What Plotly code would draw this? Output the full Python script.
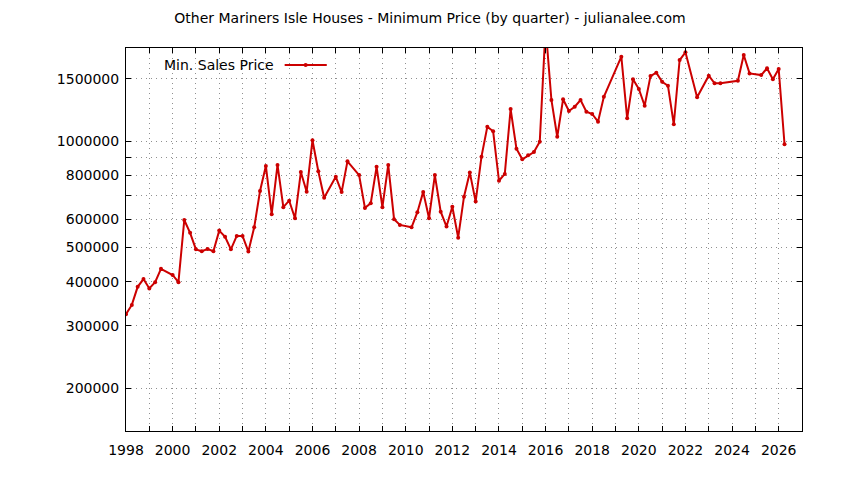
import numpy as np
import plotly.graph_objects as go

# quarter (decimal year) and minimum sales price
quarters = [1998.0, 1998.25, 1998.5, 1998.75, 1999.0, 1999.25, 1999.5,
            2000.0, 2000.25, 2000.5, 2000.75, 2001.0, 2001.25, 2001.5, 2001.75,
            2002.0, 2002.25, 2002.5, 2002.75, 2003.0, 2003.25, 2003.5, 2003.75,
            2004.0, 2004.25, 2004.5, 2004.75, 2005.0, 2005.25, 2005.5, 2005.75,
            2006.0, 2006.25, 2006.5, 2007.0, 2007.25, 2007.5,
            2008.0, 2008.25, 2008.5, 2008.75, 2009.0, 2009.25, 2009.5, 2009.75,
            2010.25, 2010.5, 2010.75, 2011.0, 2011.25, 2011.5, 2011.75,
            2012.0, 2012.25, 2012.5, 2012.75, 2013.0, 2013.25, 2013.5, 2013.75,
            2014.0, 2014.25, 2014.5, 2014.75, 2015.0, 2015.25, 2015.5, 2015.75,
            2016.0, 2016.25, 2016.5, 2016.75, 2017.0, 2017.25, 2017.5, 2017.75,
            2018.0, 2018.25, 2018.5, 2019.25, 2019.5, 2019.75,
            2020.0, 2020.25, 2020.5, 2020.75, 2021.0, 2021.25, 2021.5, 2021.75,
            2022.0, 2022.5, 2023.0, 2023.25, 2023.5,
            2024.25, 2024.5, 2024.75, 2025.25, 2025.5, 2025.75, 2026.0, 2026.25]

min_price = [324000, 344000, 387000, 407000, 383000, 399000, 435000,
             418000, 399000, 598000, 550000, 494000, 488000, 495000, 488000,
             558000, 536000, 494000, 539000, 539000, 487000, 570000, 722000,
             850000, 621000, 856000, 650000, 678000, 605000, 817000, 719000,
             1005000, 821000, 691000, 792000, 717000, 876000,
             801000, 647000, 667000, 845000, 650000, 856000, 601000, 579000,
             570000, 629000, 718000, 605000, 801000, 631000, 573000,
             652000, 533000, 696000, 814000, 674000, 903000, 1097000, 1065000,
             772000, 807000, 1231000, 951000, 888000, 911000, 931000, 995000,
             2100000, 1306000, 1028000, 1312000, 1216000, 1250000, 1306000, 1210000,
             1192000, 1134000, 1334000, 1731000, 1159000, 1494000,
             1403000, 1258000, 1526000, 1560000, 1471000, 1433000, 1115000, 1694000,
             1781000, 1329000, 1530000, 1456000, 1456000,
             1480000, 1750000, 1553000, 1536000, 1605000, 1494000, 1598000, 979000]

year_ticks = list(range(1998, 2028))
year_labels = [str(y) if y % 2 == 0 else "" for y in year_ticks]

price_ticks = [200000, 300000, 400000, 500000, 600000, 700000, 800000, 900000, 1000000, 1500000]
price_labels = ["200000", "300000", "400000", "500000", "600000", "", "800000", "", "1000000", "1500000"]

red = "#cc0000"
FONT = "DejaVu Sans"
FS = 14

fig = go.Figure()
fig.add_trace(go.Scatter(x=quarters, y=min_price, mode="lines+markers",
                         line=dict(color=red, width=2),
                         marker=dict(color=red, size=4),
                         name="Min. Sales Price", showlegend=False))

axis_common = dict(showline=True, linecolor="black", linewidth=1, mirror="ticks",
                   ticks="inside", ticklen=5, tickcolor="black",
                   showgrid=True, gridcolor="#909090", griddash="1px,4px", gridwidth=1,
                   zeroline=False, tickfont=dict(family=FONT, size=FS, color="black"))

fig.update_xaxes(range=[1998, 2027], tickvals=year_ticks, ticktext=year_labels,
                 ticklabelstandoff=6, **axis_common)
fig.update_yaxes(type="log", range=[np.log10(151400), np.log10(1832000)],
                 tickvals=price_ticks, ticktext=price_labels,
                 ticklabelstandoff=3, **axis_common)

# gnuplot style key: text then line sample
fig.add_annotation(x=0.222, y=0.9556, xref="paper", yref="paper", xanchor="right",
                   yanchor="middle", text="Min. Sales Price", showarrow=False,
                   font=dict(family=FONT, size=FS, color="black"))
fig.add_shape(type="line", xref="paper", yref="paper", x0=0.2347, x1=0.297,
              y0=0.9556, y1=0.9556, line=dict(color=red, width=2))
fig.add_shape(type="circle", xref="paper", yref="paper", x0=0.2628, x1=0.2688,
              y0=0.9503, y1=0.9609, fillcolor=red, line=dict(color=red, width=0))

fig.update_layout(
    width=844, height=480,
    title=dict(text="Other Mariners Isle Houses - Minimum Price (by quarter) - julianalee.com",
               x=0.5, xanchor="center", y=1 - 10 / 480, yanchor="middle", yref="container",
               font=dict(family=FONT, size=FS, color="black")),
    margin=dict(l=118, r=50, t=40, b=57),
    plot_bgcolor="white", paper_bgcolor="white",
    font=dict(family=FONT, size=FS, color="black"),
)

fig.write_html("out.html")
